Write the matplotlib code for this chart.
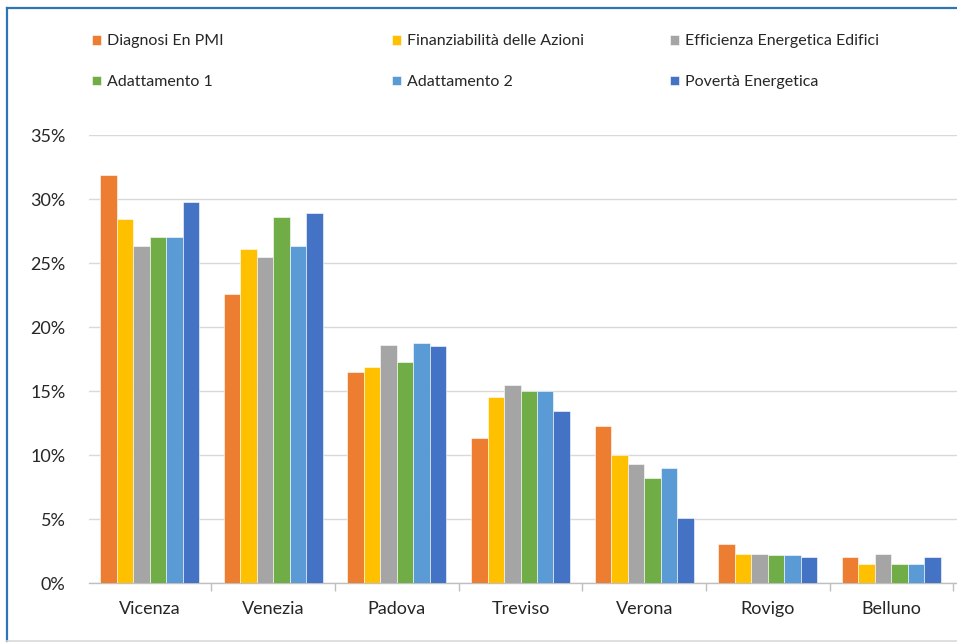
import numpy as np
import matplotlib
matplotlib.use("Agg")
import matplotlib.pyplot as plt
from matplotlib.lines import Line2D
from matplotlib.ticker import PercentFormatter, FixedLocator

plt.rcParams['font.family'] = ['Lato', 'DejaVu Sans']

# data (percent)
provinces = ["Vicenza", "Venezia", "Padova", "Treviso", "Verona", "Rovigo", "Belluno"]
series_names = ["Diagnosi En PMI", "Finanziabilità delle Azioni", "Efficienza Energetica Edifici",
                "Adattamento 1", "Adattamento 2", "Povertà Energetica"]
diagnosi = [31.9, 22.6, 16.5, 11.3, 12.3, 3.05, 2.0]
finanziabilita = [28.4, 26.1, 16.9, 14.5, 10.0, 2.27, 1.5]
efficienza = [26.3, 25.5, 18.6, 15.5, 9.3, 2.3, 2.3]
adattamento1 = [27.0, 28.6, 17.3, 15.0, 8.2, 2.2, 1.45]
adattamento2 = [27.0, 26.3, 18.75, 15.0, 9.0, 2.2, 1.45]
poverta = [29.8, 28.9, 18.5, 13.4, 5.1, 2.0, 2.0]

colors = ["#ED7D31", "#FFC000", "#A5A5A5", "#70AD47", "#5B9BD5", "#4472C4"]
all_series = [diagnosi, finanziabilita, efficienza, adattamento1, adattamento2, poverta]

fig = plt.figure(figsize=(9.57, 6.44), dpi=100)
ax = fig.add_axes([89 / 957, 1 - 583 / 644, (957 - 89) / 957, (583 - 135) / 644])

x = np.arange(len(provinces))
group_w = 0.8
bw = group_w / len(all_series)
bars = []
for i, (vals, c) in enumerate(zip(all_series, colors)):
    b = ax.bar(x - group_w / 2 + bw * (i + 0.5), vals, width=bw, color=c,
               edgecolor="white", linewidth=0.4, zorder=3)
    bars.append(b)

ax.set_xlim(-0.49, len(provinces) - 0.49 + 0.02)
ax.set_ylim(0, 35)
ax.set_yticks(np.arange(0, 36, 5))
ax.yaxis.set_major_formatter(PercentFormatter(decimals=0))
ax.grid(axis="y", color="#D9D9D9", linewidth=1, zorder=0)
ax.set_axisbelow(True)

ax.set_xticks(x)
ax.set_xticklabels(provinces)
ax.xaxis.set_minor_locator(FixedLocator(np.arange(-0.5, len(provinces), 1)))
ax.tick_params(axis="x", which="major", length=0, pad=13, labelsize=13, labelcolor="#262626")
ax.tick_params(axis="x", which="minor", length=6, color="#BFBFBF", width=1)
ax.tick_params(axis="y", length=0, pad=17, labelsize=13, labelcolor="#262626")

for s in ["left", "right", "top"]:
    ax.spines[s].set_visible(False)
ax.spines["bottom"].set_color("#BFBFBF")
ax.spines["bottom"].set_linewidth(1)

# legend: three columns of two rows
col_x = [86 / 957, 386 / 957, 664 / 957]
for k in range(3):
    idx = [k, k + 3]
    leg = fig.legend([bars[i] for i in idx], [series_names[i] for i in idx],
                     loc="upper left", bbox_to_anchor=(col_x[k], 1 - 28 / 644),
                     frameon=False, fontsize=11.5, handlelength=0.55, handleheight=0.55,
                     handletextpad=0.35, labelspacing=1.68, borderaxespad=0)
    for t in leg.get_texts():
        t.set_color("#262626")

# outer frame
fig.add_artist(Line2D([7 / 957, 7 / 957], [1 - 641 / 644, 1 - 8 / 644],
                      color="#2E75B6", linewidth=1.6, transform=fig.transFigure))
fig.add_artist(Line2D([7 / 957, 1.0], [1 - 8 / 644, 1 - 8 / 644],
                      color="#2E75B6", linewidth=1.6, transform=fig.transFigure))
fig.add_artist(Line2D([7 / 957, 1.0], [1 - 641 / 644, 1 - 641 / 644],
                      color="#D9D9D9", linewidth=1.2, transform=fig.transFigure))

fig.savefig("out.png", dpi=100)
